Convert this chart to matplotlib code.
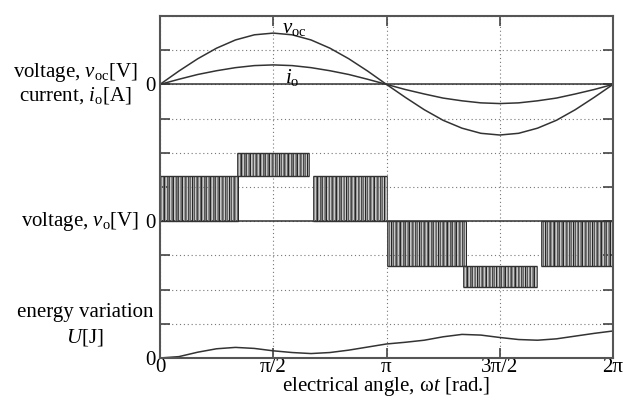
import numpy as np
import matplotlib
matplotlib.use('Agg')
from matplotlib import pyplot as plt

plt.rcParams['font.family'] = 'Liberation Serif'
plt.rcParams['mathtext.fontset'] = 'custom'
plt.rcParams['mathtext.rm'] = 'Liberation Serif'
plt.rcParams['mathtext.it'] = 'Liberation Serif:italic'

angle = np.deg2rad(np.arange(0, 361, 15))
voc = [0, 0.39, 0.75, 1.06, 1.30, 1.45, 1.50, 1.45, 1.30, 1.06, 0.75, 0.39, 0,
       -0.38, -0.74, -1.05, -1.28, -1.43, -1.48, -1.43, -1.28, -1.05, -0.74, -0.38, 0]
io = [0, 0.15, 0.29, 0.40, 0.49, 0.55, 0.57, 0.55, 0.49, 0.40, 0.29, 0.15, 0,
      -0.15, -0.28, -0.40, -0.48, -0.54, -0.56, -0.54, -0.48, -0.40, -0.28, -0.15, 0]
U = [0, 0.04, 0.17, 0.27, 0.31, 0.28, 0.21, 0.16, 0.13, 0.16, 0.23, 0.32, 0.41,
     0.46, 0.52, 0.62, 0.69, 0.67, 0.60, 0.54, 0.52, 0.56, 0.64, 0.72, 0.79]

# PWM blocks of the output voltage vo
pwm_start = [0.0, 1.07, 2.12, np.pi, 4.20, 5.28]
pwm_end = [1.08, 2.07, np.pi, 4.24, 5.23, 2 * np.pi]
pwm_low = [0, 1.32, 0, 0, -1.30, -0]
pwm_high = [1.32, 1.98, 1.32, -1.30, -1.93, -1.30]
pwm_pulses = [60, 55, 55, 60, 55, 55]

xticks = [0, np.pi / 2, np.pi, 3 * np.pi / 2, 2 * np.pi]
xlabels = ['0', 'π/2', 'π', '3π/2', '2π']

off_U, off_vo, off_voc = 0, 4, 8
W, H = 626, 396
fs = 15

fig = plt.figure(figsize=(W / 100, H / 100), dpi=100)
ax = fig.add_axes([160 / W, 1 - 358 / H, 453 / W, 342 / H])
ax.set_xlim(0, 2 * np.pi)
ax.set_ylim(0, 10)

ax.set_yticks(range(11))
ax.set_yticklabels(['0' if i in (0, 4, 8) else '' for i in range(11)])
ax.set_xticks(xticks)
ax.set_xticklabels(xlabels)
ax.grid(True, linestyle=(0, (1, 2.5)), color='#777', lw=0.8)
ax.tick_params(direction='in', top=True, right=True, length=7, width=1.2,
               color='#444', labelsize=fs)
ax.tick_params(axis='y', pad=3)
ax.tick_params(axis='x', pad=0)
for s in ax.spines.values():
    s.set_linewidth(1.5)
    s.set_color('#555')

lc = '#333'
ax.axhline(off_voc, color=lc, lw=1.1)
ax.axhline(off_vo, color=lc, lw=1.1)
ax.plot(angle, np.array(voc) + off_voc, color=lc, lw=1.1)
ax.plot(angle, np.array(io) + off_voc, color=lc, lw=1.1)
ax.plot(angle, np.array(U) + off_U, color=lc, lw=1.1)

greys = ['#444', '#888', '#666', '#222', '#999', '#555', '#777']
for s, e, lo, hi, n in zip(pwm_start, pwm_end, pwm_low, pwm_high, pwm_pulses):
    ax.fill_between([s, e], off_vo + lo, off_vo + hi, color='#c8c8c8', lw=0)
    xs = np.linspace(s, e, n)
    cols = [greys[i % len(greys)] for i in range(n)]
    ax.vlines(xs, off_vo + lo, off_vo + hi, colors=cols, lw=0.7)
    ax.hlines([off_vo + lo, off_vo + hi], s, e, color=lc, lw=1.0)

# curve labels
fig.text(294 / W, 1 - 29 / H, r'$v_{\rm oc}$', ha='center', va='center', fontsize=fs)
fig.text(292 / W, 1 - 77 / H, r'$i_{\rm o}$', ha='center', va='center', fontsize=fs)

# left-hand labels
fig.text(75 / W, 1 - 72 / H, r'voltage, $v_{\rm oc}$[V]', ha='center', va='center', fontsize=fs)
fig.text(75 / W, 1 - 95 / H, r'current, $i_{\rm o}$[A]', ha='center', va='center', fontsize=fs)
fig.text(139 / W, 1 - 222 / H, r'voltage, $v_{\rm o}$[V]', ha='right', va='center', fontsize=fs)
fig.text(85 / W, 1 - 313 / H, 'energy variation', ha='center', va='center', fontsize=fs)
fig.text(85 / W, 1 - 337 / H, r'$U$[J]', ha='center', va='center', fontsize=fs)

fig.text(386 / W, 1 - 387 / H, r'electrical angle, ω$t$ [rad.]', ha='center', va='center', fontsize=fs)

fig.savefig('out.png', dpi=100)
